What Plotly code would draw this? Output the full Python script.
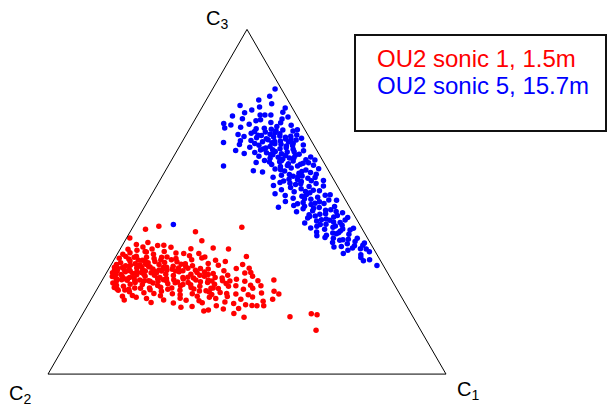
import plotly.graph_objects as go

# Ternary compositions in percent. C2 is the remainder (sum = 100),
# so only C3 (apex) and C1 (lower right) are listed.

# OU2 sonic 1, 1.5 m
red_c1 = [
    0.8, 1.2, 1.5, 2.1, 1.6, 2.8, 3.3, 3.6, 4.2, 3.7, 2.5, 4.6, 1.1, 3.0, 4.9, 2.4,
    2.3, 3.9, 4.4, 4.3, 3.6, 5.0, 4.8, 1.3, 3.4, 2.0, 4.1, 1.4, 2.6, 4.7, 3.5, 8.4,
    5.2, 5.8, 6.1, 6.4, 5.5, 6.7, 7.0, 7.3, 7.6, 7.9, 8.2, 8.5, 8.8, 9.1, 9.4, 9.7,
    5.4, 6.2, 6.9, 7.4, 8.0, 8.7, 9.3, 9.9, 5.9, 6.5, 7.1, 7.8, 8.3, 8.9, 9.5, 9.8,
    6.0, 7.5, 8.6,
    10.2, 10.5, 10.8, 11.1, 11.4, 11.7, 12.0, 12.3, 12.6, 12.9, 13.2, 13.5, 13.8, 14.1,
    14.4, 14.7, 10.4, 11.0, 11.9, 12.5, 13.1, 13.7, 14.3, 14.9, 10.7, 11.6, 12.2, 13.4,
    14.6, 12.8,
    15.1, 15.4, 15.7, 16.0, 16.4, 16.3, 16.6, 16.9, 17.2, 17.5, 17.8, 18.1, 18.4, 18.7,
    19.0, 19.3, 19.6, 19.9, 15.5, 16.1, 17.0, 17.7, 18.3, 18.9, 19.5, 15.9, 17.4, 18.6,
    20.2, 20.6, 21.0, 21.4, 21.8, 22.2, 22.6, 23.0, 23.2, 23.4, 23.8, 24.2, 24.6, 24.9,
    20.4, 21.2, 22.0, 22.9, 23.7, 24.5, 20.9, 21.7, 24.0, 22.4, 25.0,
    25.4, 25.8, 26.2, 26.6, 27.0, 27.2, 27.4, 27.6, 28.0, 28.4, 28.8, 29.2, 29.6, 30.0,
    25.6, 26.4, 27.3, 28.2, 29.0, 29.8, 26.9, 28.6,
    30.4, 30.8, 31.2, 31.6, 32.0, 32.4, 32.8, 33.2, 33.6, 34.0, 34.4, 34.8, 35.2, 31.0,
    32.2, 33.8, 34.6, 33.0,
    35.6, 36.0, 36.4, 36.8, 37.2, 37.6, 38.0, 38.4, 38.8, 39.2, 39.6, 36.2, 37.9, 39.0,
    40.2, 40.7, 41.0, 41.3, 41.9, 42.6, 43.1, 43.5, 44.3, 44.8, 45.6, 46.4,
    52.5, 57.4, 59.0, 61.0,
    2.4, 3.1, 3.8, 4.5, 5.1, 5.7, 6.3, 6.8, 7.2, 7.7, 8.1, 8.6, 9.0, 9.6, 10.1, 10.6,
    11.2, 11.8, 12.4, 13.0, 13.6, 14.2, 14.8, 15.3, 15.8, 16.5, 17.1, 17.9, 18.5, 19.2,
    19.8, 20.5, 21.1, 21.9, 22.7, 23.5, 24.3, 25.1, 26.0, 26.8, 27.7, 28.5, 29.4, 30.3,
    31.4, 32.6, 2.0, 4.0, 6.6, 8.0,
]
red_c3 = [
    39.5, 31.0, 29.4, 32.3, 30.2, 28.1, 30.9, 27.5, 32.8, 26.9, 34.1, 29.7, 33.6, 35.2, 31.6, 28.6,
    30.6, 28.9, 35.9, 25.8, 33.4, 24.7, 27.4, 31.8, 37.6, 36.2, 25.1, 34.8, 29.0, 33.9, 42.0, 21.5,
    30.4, 27.6, 33.1, 42.9, 24.3, 29.2, 35.4, 31.7, 26.1, 28.8, 32.6, 23.9, 30.1, 34.8, 27.3, 31.2,
    36.9, 25.5, 30.8, 22.6, 36.3, 29.5, 25.0, 33.5, 32.0, 28.0, 24.4, 33.9, 27.0, 37.3, 29.9, 22.8,
    38.2, 29.6, 31.9,
    28.4, 32.7, 24.9, 30.5, 35.6, 27.1, 31.8, 23.6, 29.3, 34.0, 26.4, 30.9, 21.9, 28.0,
    33.2, 25.7, 37.4, 22.3, 29.8, 36.8, 32.4, 27.7, 31.0, 23.4, 26.0, 33.9, 26.9, 24.5,
    35.1, 30.2,
    29.0, 33.5, 25.2, 30.4, 41.3, 27.0, 35.0, 22.7, 28.6, 31.9, 24.6, 29.7, 34.3, 26.5,
    31.2, 38.7, 23.3, 28.0, 20.8, 32.6, 26.2, 36.4, 21.5, 30.0, 33.2, 27.7, 30.8, 25.0,
    27.6, 31.4, 24.3, 29.0, 33.7, 22.0, 27.9, 30.6, 36.6, 25.1, 28.7, 32.1, 23.3, 26.8,
    35.0, 20.6, 30.1, 25.9, 19.4, 29.6, 26.0, 23.0, 21.4, 34.0, 30.5,
    25.5, 28.9, 22.6, 27.3, 31.6, 36.3, 42.6, 24.2, 28.0, 20.7, 26.1, 30.0, 23.1, 18.3,
    33.0, 19.6, 21.3, 32.7, 25.0, 27.9, 29.2, 23.8,
    24.8, 28.7, 21.9, 26.3, 30.6, 19.8, 34.1, 23.4, 27.5, 20.9, 25.6, 29.3, 30.7, 18.6,
    27.0, 22.5, 18.9, 31.8,
    23.2, 26.9, 20.5, 24.6, 28.4, 21.7, 25.8, 19.0, 23.0, 27.1, 20.1, 29.5, 17.6, 24.9,
    22.4, 25.6, 16.5, 19.9, 23.5, 19.8, 27.3, 21.1, 19.8, 24.0, 21.7, 23.2,
    16.6, 17.5, 17.2, 12.7,
    30.0, 26.4, 31.4, 28.3, 34.2, 29.9, 27.2, 31.5, 33.0, 27.9, 30.9, 26.6, 32.3, 29.0, 31.1, 27.0,
    29.4, 33.1, 28.7, 25.0, 29.9, 26.9, 30.1, 27.4, 31.3, 24.0, 29.9, 27.4, 32.0, 26.7,
    30.7, 25.6, 28.1, 26.6, 29.5, 27.3, 24.7, 28.4, 24.1, 26.6, 27.0, 24.9, 22.3, 27.1,
    23.7, 25.5, 28.3, 30.3, 35.6, 24.6,
]

# OU2 sonic 5, 15.7 m
blue_c1 = [
    15.7, 9.3, 17.0, 21.0, 7.8, 9.8, 11.8, 15.7, 16.9, 18.4, 13.2, 12.9, 21.8, 15.5,
    21.0, 19.5, 14.3, 23.0, 16.5, 22.0, 14.4, 11.5, 15.4, 25.0, 8.9,
    10.5, 12.6, 16.7, 20.6, 23.6, 26.3, 19.5, 16.1, 23.4, 13.0, 19.0, 26.5, 22.3, 18.1,
    29.5, 25.6, 21.3, 17.1, 24.6, 20.2, 28.1, 23.6, 14.8, 19.8, 26.8, 22.8, 8.7, 27.2,
    22.0, 27.8, 14.8, 20.7, 28.4, 26.8, 18.5, 30.9, 21.6, 16.7, 21.0, 25.3, 14.5, 25.2,
    18.7, 23.7, 22.7,
    17.8, 21.9, 25.6, 29.0, 20.9, 31.8, 24.8, 27.9, 22.8, 17.3, 31.2, 24.7, 28.0, 21.4,
    34.5, 30.4, 24.5, 27.8, 33.7, 23.4, 30.7, 27.4, 21.6, 33.5, 29.9, 25.8, 13.9, 36.4,
    32.5, 28.3, 27.0, 23.9, 19.8, 30.4, 26.4, 36.0, 24.9, 33.0, 14.7, 26.7,
    31.2, 27.3, 35.2, 30.0, 24.6, 33.9, 38.4, 29.8, 32.9, 28.0, 36.9, 32.3, 41.1, 35.7,
    30.5, 39.7, 34.7, 29.3, 38.4, 33.9, 38.2, 34.4, 31.7, 38.6, 31.2, 35.9, 41.9, 22.1,
    35.1, 34.5,
    36.7, 31.9, 41.6, 35.4, 39.5, 30.9, 44.9, 33.7, 38.0, 42.1, 36.1, 40.7, 47.3, 34.6,
    39.2, 44.6, 41.5, 37.3, 33.7, 47.7, 44.0, 40.1, 47.2, 42.8, 38.9, 50.6, 46.5, 42.5,
    38.2, 43.7, 39.0, 43.2, 38.0, 42.7, 48.8, 45.1,
    44.2, 49.0, 42.6, 47.4, 52.3, 45.3, 49.7, 42.6, 48.1, 52.3, 46.1, 50.3, 55.6, 48.5,
    55.0, 52.7, 46.9, 51.1, 55.3, 49.8, 52.6, 46.3, 51.4, 50.7, 44.8, 52.5, 47.5, 42.9,
    49.8, 52.0, 58.0, 55.9, 53.9, 57.9, 52.4, 56.3, 60.4, 55.2, 58.2, 60.3, 61.8, 57.4,
    63.0, 56.7, 61.3, 61.7, 64.2, 62.8, 66.9, 60.5, 53.4,
    9.8,
    22.0, 18.1, 27.0, 23.2, 28.3, 21.4, 29.6, 24.1, 29.3, 27.7, 34.8, 29.9, 28.8, 36.7,
    34.2, 38.1, 33.1, 40.0, 38.9, 45.3, 42.3, 40.1, 46.0, 49.7, 48.5, 46.7, 53.0, 52.1,
    54.6, 58.4,
]
blue_c3 = [
    82.7, 77.9, 78.4, 77.2, 72.7, 72.3, 74.1, 75.2, 75.2, 75.2, 79.5, 76.6, 74.0, 73.5,
    76.0, 73.0, 72.5, 74.6, 73.8, 72.9, 77.5, 75.8, 80.6, 72.2, 74.9,
    67.2, 71.6, 71.2, 71.0, 70.8, 70.5, 70.2, 69.9, 69.7, 69.5, 69.2, 69.0, 68.8, 68.6,
    68.4, 68.2, 68.0, 67.8, 67.6, 67.4, 67.0, 66.8, 66.6, 66.4, 66.2, 66.0, 71.4, 70.9,
    70.0, 69.4, 68.9, 68.3, 67.9, 67.3, 66.9, 66.5, 71.8, 70.4, 69.6, 68.7, 67.7, 66.7,
    71.3, 69.1, 67.1,
    65.8, 65.6, 65.4, 65.2, 65.0, 64.8, 64.6, 64.4, 64.2, 64.0, 63.8, 63.6, 63.4, 63.2,
    63.0, 62.8, 62.6, 62.4, 62.2, 62.0, 61.8, 61.6, 61.4, 61.2, 61.0, 60.8, 60.4, 60.6,
    60.4, 60.2, 65.7, 65.1, 64.3, 63.5, 62.9, 62.1, 61.5, 60.9, 64.9, 63.9,
    59.8, 59.5, 59.2, 58.9, 58.6, 58.3, 58.0, 57.7, 57.4, 57.1, 56.8, 56.5, 56.2, 55.9,
    55.6, 55.3, 55.0, 54.7, 54.4, 54.1, 59.6, 58.8, 57.9, 57.0, 56.0, 55.2, 54.6, 59.0,
    57.5, 56.4,
    53.8, 53.5, 53.2, 52.9, 52.6, 52.3, 52.0, 51.8, 51.6, 51.3, 51.0, 50.7, 50.4, 50.1,
    49.8, 49.5, 49.2, 48.9, 48.4, 48.6, 48.3, 48.0, 47.7, 47.4, 47.1, 46.8, 46.5, 46.2,
    53.0, 51.9, 50.9, 50.0, 49.4, 48.1, 47.2, 46.4,
    45.9, 45.6, 45.3, 45.0, 44.7, 44.4, 44.1, 43.8, 43.5, 43.2, 42.9, 42.6, 42.3, 42.0,
    41.8, 41.5, 41.2, 40.9, 40.6, 40.3, 45.4, 44.8, 44.0, 43.0, 42.4, 41.0, 40.1, 45.7,
    39.6, 39.4, 39.4, 39.1, 38.8, 38.5, 38.2, 37.8, 37.4, 37.0, 36.6, 36.4, 36.3, 35.9,
    35.5, 35.0, 34.6, 33.8, 33.2, 32.9, 31.5, 38.0, 36.9,
    43.4,
    70.6, 69.3, 68.1, 67.5, 66.3, 65.3, 64.5, 63.7, 62.7, 61.9, 61.3, 60.5, 59.3, 58.5,
    57.2, 56.1, 55.4, 53.3, 52.1, 50.5, 49.6, 48.7, 47.5, 46.0, 44.6, 43.4, 42.1, 40.7,
    39.0, 37.2,
]

series_names = ["OU2 sonic 1, 1.5m", "OU2 sonic 5, 15.7m"]
series_colors = ["#ff0000", "#0000ff"]
vertex_labels = ["C<sub>3</sub>", "C<sub>2</sub>", "C<sub>1</sub>"]

W, H = 609, 409
FONT = "Arial, 'Liberation Sans', sans-serif"

fig = go.Figure()
for name, color, c1, c3 in [
    (series_names[0], series_colors[0], red_c1, red_c3),
    (series_names[1], series_colors[1], blue_c1, blue_c3),
]:
    fig.add_trace(go.Scatterternary(
        a=c3, c=c1, mode="markers", name=name,
        marker=dict(color=color, size=5.5, line=dict(width=0)),
        showlegend=False,
    ))

axis_style = dict(
    showgrid=False, showticklabels=False, ticks="", linecolor="black",
    linewidth=1, title=dict(text=""), min=0,
)
fig.update_layout(
    width=W, height=H,
    margin=dict(l=0, r=0, t=0, b=0),
    paper_bgcolor="white",
    ternary=dict(
        sum=100,
        bgcolor="white",
        domain=dict(x=[48 / W, 446 / W], y=[1 - 375.5 / H, 1 - 28 / H]),
        aaxis=axis_style, baxis=axis_style, caxis=axis_style,
    ),
    font=dict(family=FONT, color="black"),
)

# Vertex labels
for text, (x, y) in zip(vertex_labels, [(217, 19), (20, 394), (468, 390)]):
    fig.add_annotation(
        x=x / W, y=1 - y / H, xref="paper", yref="paper", text=text,
        showarrow=False, font=dict(size=20, family=FONT, color="black"),
        xanchor="center", yanchor="middle",
    )

# Legend box with coloured entries
fig.add_shape(
    type="rect", xref="paper", yref="paper",
    x0=355 / W, x1=606 / W, y0=1 - 131 / H, y1=1 - 35 / H,
    line=dict(color="#111111", width=2), fillcolor="white", layer="above",
)
for i, (name, color) in enumerate(zip(series_names, series_colors)):
    fig.add_annotation(
        x=375 / W, y=1 - (59 + 27 * i) / H, xref="paper", yref="paper",
        text=name, showarrow=False, xanchor="left", yanchor="middle",
        font=dict(size=24, family=FONT, color=color),
    )

fig.write_html("out.html")
